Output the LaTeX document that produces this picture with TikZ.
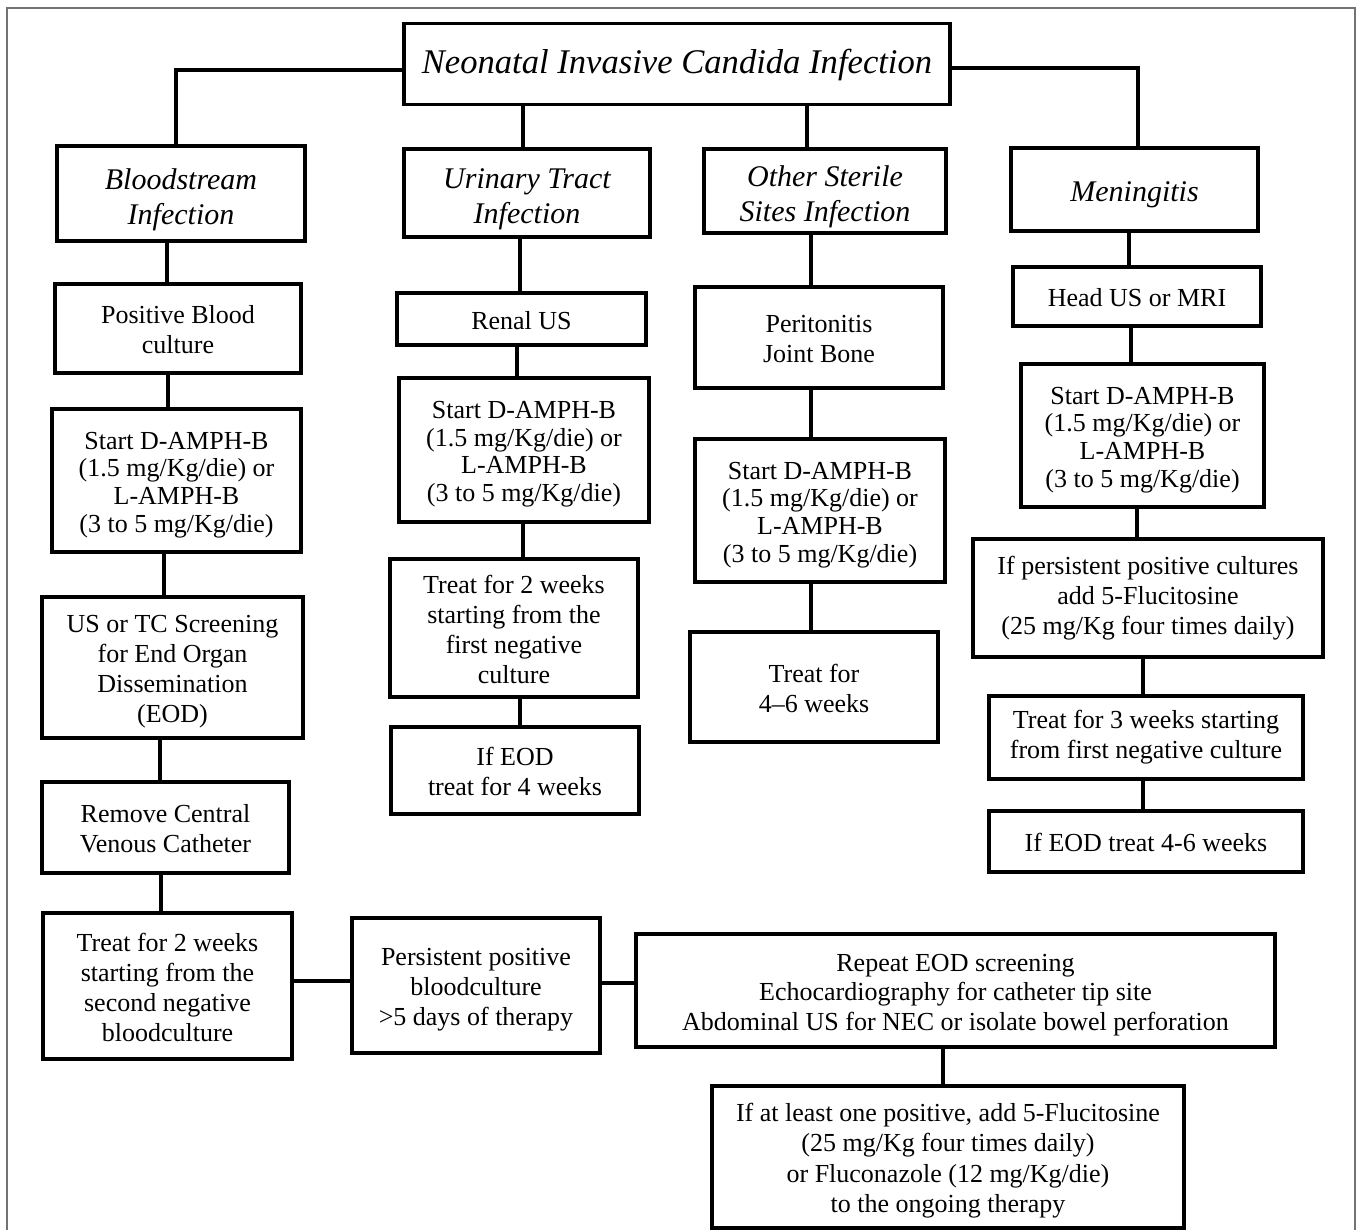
\documentclass[tikz,border=0pt]{standalone}
\usepackage{fontspec}
\setmainfont{Liberation Serif}
\newcommand{\topstrut}{\rule{0pt}{1.0em}}
\newcommand{\botstrut}{\rule[-0.216em]{0pt}{0.216em}}
\newcommand{\titletop}{\rule{0pt}{0.75em}}
\newcommand{\titlebot}{\rule[-0.45em]{0pt}{0.45em}}
\newcommand{\fl}{\rule{0pt}{1.0em}}
\newcommand{\fh}{\rule{0pt}{1.1em}}
\tikzset{
  box/.style={draw, line width=1.6pt, inner sep=0pt, align=center,
    font=\fontsize{13pt}{15pt}\selectfont,
    execute at begin node=\topstrut, execute at end node=\botstrut},
  tight/.style={font=\fontsize{13pt}{13.8pt}\selectfont},
  hdr/.style={box, font=\fontsize{15pt}{17.5pt}\selectfont\itshape},
  conn/.style={line width=1.6pt},
  frame/.style={draw=black!55, line width=0.8pt}
}
\begin{document}
\begin{tikzpicture}[x=0.5pt, y=-0.5pt]
\useasboundingbox (0,0) rectangle (1358,1230);
\draw[frame] (7,1230) -- (7,8) -- (1355,8) -- (1355,1230);

% title and headers
\node[box, minimum width=273pt, minimum height=40.5pt,
  font=\fontsize{17.3pt}{20pt}\selectfont\itshape,
  execute at begin node=\titletop,
  execute at end node=\titlebot] (title) at (677,64)
  {Neonatal Invasive Candida Infection};
\node[hdr, minimum width=124pt, minimum height=47.5pt] (bs) at (181,193.5) {\fh Bloodstream\\Infection};
\node[hdr, minimum width=123pt, minimum height=44pt] (uti) at (527,193) {\fh Urinary Tract\\Infection};
\node[hdr, minimum width=121pt, minimum height=42pt] (oss) at (825,191) {\fh Other Sterile\\Sites Infection};
\node[hdr, minimum width=123.5pt, minimum height=41.5pt] (men) at (1134.5,189.5) {Meningitis};

% column 1
\node[box, minimum width=123pt, minimum height=44.5pt] (pb) at (178,328.5) {\fl Positive Blood\\culture};
\node[box, tight, minimum width=124.5pt, minimum height=71.5pt] (st1) at (176.5,480.5)
  {\fl Start D-AMPH-B\\(1.5 mg/Kg/die) or\\L-AMPH-B\\(3 to 5 mg/Kg/die)};
\node[box, minimum width=130.5pt, minimum height=70.5pt] (us) at (172.5,667.5)
  {\fl US or TC Screening\\for End Organ\\Dissemination\\(EOD)};
\node[box, minimum width=123.5pt, minimum height=45.5pt] (cvc) at (165.5,827.5) {\fl Remove Central\\Venous Catheter};
\node[box, minimum width=124.5pt, minimum height=73pt] (tr1) at (167.5,986)
  {\fl Treat for 2 weeks\\starting from the\\second negative\\bloodculture};
\node[box, minimum width=124pt, minimum height=67.5pt] (ppb) at (476,985.5)
  {\fl Persistent positive\\bloodculture\\>5 days of therapy};
\node[box, minimum width=319.5pt, minimum height=56.5pt,
  font=\fontsize{13pt}{14.75pt}\selectfont] (rep) at (955.5,990.5)
  {\fl Repeat EOD screening\\Echocardiography for catheter tip site\\Abdominal US for NEC or isolate bowel perforation};
\node[box, minimum width=236pt, minimum height=71pt,
  font=\fontsize{13pt}{15.25pt}\selectfont] (final) at (948,1157)
  {\fl If at least one positive, add 5-Flucitosine\\(25 mg/Kg four times daily)\\or Fluconazole (12 mg/Kg/die)\\to the ongoing therapy};

% column 2
\node[box, minimum width=124.5pt, minimum height=26pt] (renal) at (521.5,319) {Renal US};
\node[box, tight, minimum width=125pt, minimum height=72pt] (st2) at (524,450)
  {\fl Start D-AMPH-B\\(1.5 mg/Kg/die) or\\L-AMPH-B\\(3 to 5 mg/Kg/die)};
\node[box, minimum width=124pt, minimum height=69pt] (tr2) at (514,628)
  {\fl Treat for 2 weeks\\starting from the\\first negative\\culture};
\node[box, minimum width=124pt, minimum height=43.5pt] (eod2) at (515,770.5) {\fl If EOD\\treat for 4 weeks};

% column 3
\node[box, minimum width=124pt, minimum height=50.5pt] (per) at (819,337.5) {\fl Peritonitis\\Joint Bone};
\node[box, tight, minimum width=125pt, minimum height=71.5pt] (st3) at (820,510.5)
  {\fl Start D-AMPH-B\\(1.5 mg/Kg/die) or\\L-AMPH-B\\(3 to 5 mg/Kg/die)};
\node[box, minimum width=124pt, minimum height=55pt] (tr3) at (814,687) {\fl Treat for\\4--6 weeks};

% column 4
\node[box, minimum width=124pt, minimum height=29.5pt] (head) at (1137,296.5) {Head US or MRI};
\node[box, tight, minimum width=121.5pt, minimum height=71.5pt] (st4) at (1142.5,435.5)
  {\fl Start D-AMPH-B\\(1.5 mg/Kg/die) or\\L-AMPH-B\\(3 to 5 mg/Kg/die)};
\node[box, minimum width=175pt, minimum height=59pt] (pers4) at (1148,598)
  {If persistent positive cultures\\add 5-Flucitosine\\(25 mg/Kg four times daily)};
\node[box, minimum width=157pt, minimum height=41.5pt] (tr4) at (1146,737.5)
  {Treat for 3 weeks starting\\from first negative culture};
\node[box, minimum width=157pt, minimum height=30.5pt] (eod4) at (1146,841.5) {If EOD treat 4-6 weeks};

% connector guide coordinates
\coordinate (yL) at (0,70);
\coordinate (yR) at (0,68);
\coordinate (xa) at (176,0);
\coordinate (xb) at (1138,0);
\coordinate (xu) at (523,0);
\coordinate (xo) at (807,0);
\coordinate (c1a) at (167,0);
\coordinate (c1b) at (168,0);
\coordinate (c1c) at (164,0);
\coordinate (c1d) at (160,0);
\coordinate (c1e) at (161,0);
\coordinate (ya) at (0,981);
\coordinate (yb) at (0,983);
\coordinate (xf) at (943,0);
\coordinate (c2a) at (520,0);
\coordinate (c2b) at (517,0);
\coordinate (c2c) at (523,0);
\coordinate (c2d) at (520,0);
\coordinate (c3) at (811,0);
\coordinate (c4a) at (1129,0);
\coordinate (c4b) at (1131,0);
\coordinate (c4c) at (1137,0);
\coordinate (c4d) at (1143,0);

% connectors from title
\draw[conn] (title.west |- yL) -| (bs.north -| xa);
\draw[conn] (title.east |- yR) -| (men.north -| xb);
\draw[conn] (title.south -| xu) -- (uti.north -| xu);
\draw[conn] (title.south -| xo) -- (oss.north -| xo);

% column 1
\draw[conn] (bs.south -| c1a) -- (pb.north -| c1a);
\draw[conn] (pb.south -| c1b) -- (st1.north -| c1b);
\draw[conn] (st1.south -| c1c) -- (us.north -| c1c);
\draw[conn] (us.south -| c1d) -- (cvc.north -| c1d);
\draw[conn] (cvc.south -| c1e) -- (tr1.north -| c1e);
\draw[conn] (tr1.east |- ya) -- (ppb.west |- ya);
\draw[conn] (ppb.east |- yb) -- (rep.west |- yb);
\draw[conn] (rep.south -| xf) -- (final.north -| xf);

% column 2
\draw[conn] (uti.south -| c2a) -- (renal.north -| c2a);
\draw[conn] (renal.south -| c2b) -- (st2.north -| c2b);
\draw[conn] (st2.south -| c2c) -- (tr2.north -| c2c);
\draw[conn] (tr2.south -| c2d) -- (eod2.north -| c2d);

% column 3
\draw[conn] (oss.south -| c3) -- (per.north -| c3);
\draw[conn] (per.south -| c3) -- (st3.north -| c3);
\draw[conn] (st3.south -| c3) -- (tr3.north -| c3);

% column 4
\draw[conn] (men.south -| c4a) -- (head.north -| c4a);
\draw[conn] (head.south -| c4b) -- (st4.north -| c4b);
\draw[conn] (st4.south -| c4c) -- (pers4.north -| c4c);
\draw[conn] (pers4.south -| c4d) -- (tr4.north -| c4d);
\draw[conn] (tr4.south -| c4d) -- (eod4.north -| c4d);
\end{tikzpicture}
\end{document}
